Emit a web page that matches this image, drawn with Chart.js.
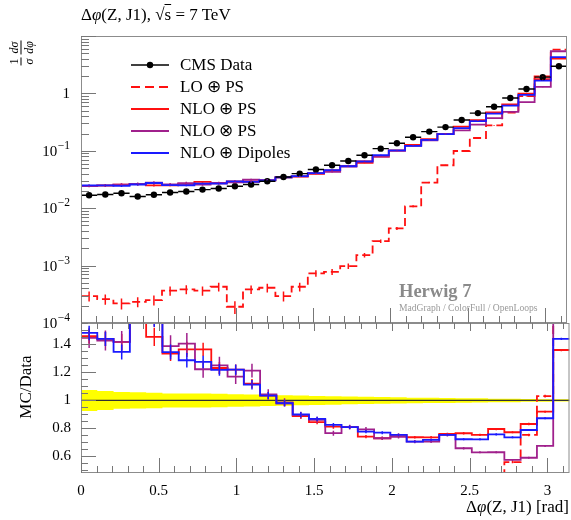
<!DOCTYPE html>
<html><head><meta charset="utf-8">
<script src="https://cdn.jsdelivr.net/npm/chart.js@4.4.0/dist/chart.umd.min.js"></script>
<style>
html,body{margin:0;padding:0;background:#fff;}
#wrap{position:relative;width:571px;height:520px;overflow:hidden;font-family:"Liberation Serif",serif;color:#000;}
canvas{position:absolute;left:0;top:0;}
.t{position:absolute;white-space:nowrap;}
.frac{display:inline-flex;flex-direction:column;align-items:center;vertical-align:middle;line-height:1;}
.frac span:first-child{border-bottom:0.8px solid #000;padding:0 1px 1px 1px;}
.frac span:last-child{padding-top:1px;}
</style></head><body>
<div id="wrap">
<canvas id="topc" width="571" height="520"></canvas>
<canvas id="ratc" width="571" height="520"></canvas>
<div class="t" style="left:81px;top:5px;font-size:17px;line-height:20px;">Δ<i>φ</i>(Z, J1), √<span style="text-decoration:overline">s</span> = 7 TeV</div>
<div class="t" style="left:21px;top:53px;transform:translate(-50%,-50%) rotate(-90deg);font-size:12px;"><span class="frac"><span>1</span><span><i>σ</i></span></span> <span class="frac"><span><i>dσ</i></span><span><i>dφ</i></span></span></div>
<div class="t" style="left:26px;top:387px;transform:translate(-50%,-50%) rotate(-90deg);font-size:17px;">MC/Data</div>
<div class="t" style="right:2px;top:497px;font-size:17px;line-height:20px;">Δ<i>φ</i>(Z, J1) [rad]</div>
<div class="t" style="left:399px;top:281px;font-size:18.5px;font-weight:bold;color:#8a8a8a;line-height:20px;">Herwig 7</div>
<div class="t" style="left:399px;top:302px;font-size:9.6px;color:#9a9a9a;line-height:11px;">MadGraph / ColorFull / OpenLoops</div>
</div>
<script>
// ---- data ----
const binEdges = [0,0.1047,0.2094,0.3142,0.4189,0.5236,0.6283,0.7330,0.8378,0.9425,1.0472,1.1519,1.2566,1.3614,1.4661,1.5708,1.6755,1.7802,1.8850,1.9897,2.0944,2.1991,2.3038,2.4086,2.5133,2.6180,2.7227,2.8274,2.9322,3.0369,3.1416];
const cmsData = [0.0168,0.0173,0.0182,0.0160,0.0172,0.0188,0.0195,0.0211,0.0220,0.0241,0.0258,0.0295,0.0350,0.0401,0.0471,0.0560,0.0665,0.0835,0.109,0.135,0.172,0.216,0.259,0.343,0.454,0.587,0.829,1.19,1.92,2.98];
const cmsRelErr = [0.075,0.068,0.06,0.058,0.055,0.05,0.05,0.05,0.048,0.045,0.043,0.04,0.037,0.035,0.032,0.03,0.028,0.026,0.024,0.022,0.02,0.019,0.018,0.016,0.015,0.013,0.012,0.01,0.009,0.008];
const loPS = [2.95e-4,2.61e-4,2.20e-4,2.34e-4,2.51e-4,3.65e-4,3.86e-4,3.65e-4,4.28e-4,1.92e-4,3.86e-4,4.11e-4,2.95e-4,4.28e-4,7.32e-4,7.80e-4,9.80e-4,1.52e-3,2.67e-3,4.44e-3,0.0108,0.0280,0.0560,0.0993,0.167,0.278,0.464,0.897,1.98,5.81];
const nloPS = [0.0245,0.0249,0.0258,0.0264,0.0250,0.0251,0.0266,0.0288,0.0271,0.0294,0.0289,0.0305,0.0343,0.0356,0.0398,0.0455,0.0538,0.0619,0.0796,0.1018,0.1268,0.1592,0.1971,0.2627,0.3423,0.4673,0.6408,0.990,1.766,4.053];
const nloXPS = [0.0243,0.0247,0.0258,0.0264,0.0279,0.0261,0.0274,0.0258,0.0275,0.0282,0.0313,0.0308,0.0345,0.0359,0.0406,0.0429,0.0538,0.0663,0.0796,0.1000,0.1214,0.1525,0.1953,0.2260,0.2860,0.3698,0.4767,0.7033,1.296,5.42];
const nloDipoles = [0.0249,0.0249,0.0245,0.0259,0.0275,0.0253,0.0251,0.0269,0.0268,0.0294,0.0287,0.0305,0.0343,0.0361,0.0409,0.0462,0.0538,0.0649,0.0839,0.1018,0.1214,0.1551,0.1953,0.248,0.328,0.445,0.611,0.939,1.676,4.29];
const errLO = [0.2,0.2,0.22,0.2,0.2,0.18,0.18,0.18,0.17,0.25,0.17,0.17,0.2,0.17,0.13,0.12,0.11,0.09,0.07,0.06,0.04,0.03,0.025,0.02,0.017,0.015,0.013,0.012,0.01,0.008];
const errNLO = [0.035,0.035,0.04,0.045,0.045,0.04,0.04,0.035,0.035,0.03,0.03,0.025,0.022,0.02,0.018,0.017,0.016,0.015,0.014,0.013,0.012,0.012,0.011,0.011,0.01,0.01,0.01,0.01,0.008,0.006];
const errNLOX = [0.05,0.05,0.055,0.06,0.06,0.055,0.055,0.05,0.05,0.045,0.04,0.035,0.03,0.027,0.025,0.023,0.021,0.02,0.018,0.017,0.016,0.015,0.014,0.013,0.012,0.012,0.012,0.012,0.01,0.008];
const seriesNames = ['CMS Data','LO ⊕ PS','NLO ⊕ PS','NLO ⊗ PS','NLO ⊕ Dipoles'];
const xTickValues = [0,0.5,1,1.5,2,2.5,3];
const xTickLabels = ['0','0.5','1','1.5','2','2.5','3'];
const logTickValues = [1e-4,1e-3,1e-2,1e-1,1];
const logTickBases = ['10','10','10','10','1'];
const logTickExps = ['−4','−3','−2','−1',''];
const ratioTickValues = [0.6,0.8,1,1.2,1.4];
const ratioTickLabels = ['0.6','0.8','1','1.2','1.4'];

// ---- styles ----
const FONT = '"Liberation Serif", serif';
const RED = '#ff1010', PURPLE = '#a0208c', BLUE = '#1a1aff';
const mcSeries = [
  {name:seriesNames[1], vals:loPS, err:errLO, color:RED, dash:[8,4], order:4},
  {name:seriesNames[2], vals:nloPS, err:errNLO, color:RED, dash:[], order:3},
  {name:seriesNames[3], vals:nloXPS, err:errNLOX, color:PURPLE, dash:[], order:2},
  {name:seriesNames[4], vals:nloDipoles, err:errNLO, color:BLUE, dash:[], order:1}
];
const nB = cmsData.length;
const centers = cmsData.map((_,i)=>(binEdges[i]+binEdges[i+1])/2);
function stepPts(vals){ const p = vals.map((v,i)=>({x:binEdges[i], y:v})); p.push({x:binEdges[vals.length], y:vals[vals.length-1]}); return p; }
const ratioOf = arr => arr.map((v,i)=>v/cmsData[i]);

function clipArea(ctx,a){ ctx.beginPath(); ctx.rect(a.left,a.top,a.right-a.left,a.bottom-a.top); ctx.clip(); }

function frameTicks(chart, spec){
  const {ctx, chartArea:a} = chart; const x = chart.scales.x, y = chart.scales.y;
  ctx.save();
  ctx.strokeStyle = '#8c8c8c'; ctx.lineWidth = 1;
  ctx.strokeRect(a.left+0.5, a.top+0.5, a.right-a.left-1, a.bottom-a.top-1);
  ctx.strokeStyle = '#777'; ctx.beginPath();
  spec.yTicks.forEach(([v,len])=>{ const py = Math.round(y.getPixelForValue(v))+0.5; if(py<a.top||py>a.bottom) return; ctx.moveTo(a.left,py); ctx.lineTo(a.left+len,py); });
  spec.xTicks.forEach(([v,len])=>{ const px = Math.round(x.getPixelForValue(v))+0.5;
    if(spec.bottomUp){ ctx.moveTo(px,a.bottom); ctx.lineTo(px,a.bottom-len); }
    if(spec.topDown){ ctx.moveTo(px,a.top); ctx.lineTo(px,a.top+(len>10?8:6)); } });
  ctx.stroke(); ctx.restore();
}
const xTickSpec = [];
for(let k=0;k<=31;k++){ const v=k/10; const major = Math.abs(v*2-Math.round(v*2))<1e-6; xTickSpec.push([v, major?15:7]); }
const logTickSpec = [];
for(let e=-4;e<=0;e++){ for(let m=1;m<=9;m++){ logTickSpec.push([m*Math.pow(10,e), m===1?15:8]); } }
logTickSpec.push([10,15]);
const ratioTickSpec = [];
for(let k=10;k<=31;k++){ const v=k*0.05; const major = (k%4===0); ratioTickSpec.push([v, major?15:7]); }

// ---- top chart ----
const topDatasets = [
  {label:seriesNames[0], data:centers.map((c,i)=>({x:c,y:cmsData[i]})), showLine:false, pointRadius:3.2, pointBackgroundColor:'#000', pointBorderColor:'#000', pointBorderWidth:0, order:0}
].concat(mcSeries.map(s=>({label:s.name, data:stepPts(s.vals), stepped:'before', borderColor:s.color, borderDash:s.dash, borderWidth:1.8, pointRadius:0, fill:false, order:s.order})));

const topPlugin = {id:'topExtras',
  afterDatasetsDraw(chart){
    const {ctx, chartArea:a} = chart; const x=chart.scales.x, y=chart.scales.y;
    ctx.save(); clipArea(ctx,a);
    [...mcSeries].sort((p,q)=>q.order-p.order).forEach(s=>{
      ctx.strokeStyle = s.color; ctx.lineWidth = 1.5; ctx.beginPath();
      s.vals.forEach((v,i)=>{ const px=x.getPixelForValue(centers[i]); ctx.moveTo(px,y.getPixelForValue(v*(1-s.err[i]))); ctx.lineTo(px,y.getPixelForValue(v*(1+s.err[i]))); });
      ctx.stroke(); });
    ctx.strokeStyle='#000'; ctx.lineWidth=1.4; ctx.beginPath();
    cmsData.forEach((v,i)=>{ const py=y.getPixelForValue(v); ctx.moveTo(x.getPixelForValue(binEdges[i]),py); ctx.lineTo(x.getPixelForValue(binEdges[i+1]),py);
      const px=x.getPixelForValue(centers[i]); ctx.moveTo(px,y.getPixelForValue(v*(1-cmsRelErr[i]))); ctx.lineTo(px,y.getPixelForValue(v*(1+cmsRelErr[i]))); });
    ctx.stroke(); ctx.restore();
  },
  afterDraw(chart){
    frameTicks(chart,{yTicks:logTickSpec, xTicks:xTickSpec, bottomUp:true});
    const ctx = chart.ctx; const y = chart.scales.y; ctx.save();
    // log tick labels: base with raised exponent
    ctx.fillStyle='#000'; ctx.textBaseline='middle'; ctx.textAlign='right';
    logTickValues.forEach((v,i)=>{
      const py = y.getPixelForValue(v); const rx = chart.chartArea.left - 11;
      if(logTickExps[i]){
        ctx.font = '11.5px '+FONT; const ew = ctx.measureText(logTickExps[i]).width;
        ctx.fillText(logTickExps[i], rx, py-5);
        ctx.font = '15px '+FONT; ctx.fillText(logTickBases[i], rx-ew-0.5, py+1);
      } else { ctx.font = '15px '+FONT; ctx.fillText(logTickBases[i], rx, py+1); }
    });
    ctx.textAlign='left';
    ctx.font = '17px '+FONT; ctx.textBaseline='middle'; ctx.fillStyle='#000';
    chart.data.datasets.forEach((ds,i)=>{
      const yy = 65 + 22*i;
      ctx.beginPath();
      if(ds.showLine===false){ ctx.strokeStyle='#000'; ctx.lineWidth=1.4; ctx.setLineDash([]); ctx.moveTo(131,yy); ctx.lineTo(169,yy); ctx.stroke(); ctx.beginPath(); ctx.arc(150,yy,3.2,0,Math.PI*2); ctx.fill(); }
      else { ctx.strokeStyle=ds.borderColor; ctx.lineWidth=1.8; ctx.setLineDash(ds.borderDash.length?[9,5]:[]); ctx.moveTo(131,yy); ctx.lineTo(169,yy); ctx.stroke(); }
      ctx.setLineDash([]);
      ctx.fillStyle='#000'; ctx.fillText(ds.label, 180, yy+1);
    });
    ctx.restore();
  }
};

new Chart(document.getElementById('topc'), {
  type:'line',
  data:{datasets:topDatasets},
  options:{
    responsive:false, animation:false, devicePixelRatio:1,
    layout:{padding:{top:36,bottom:197,left:0,right:1.5}},
    plugins:{legend:{display:false}, tooltip:{enabled:false}},
    scales:{
      x:{type:'linear', min:binEdges[0], max:binEdges[nB], display:false},
      y:{type:'logarithmic', min:1e-4, max:10,
         afterFit(s){ s.width = 81; },
         afterBuildTicks(s){ s.ticks = logTickValues.map(v=>({value:v})); },
         grid:{display:false, drawTicks:false}, border:{display:false},
         ticks:{padding:10, color:'#000', font:{family:FONT,size:15}, callback:()=>''}}
    }
  },
  plugins:[topPlugin]
});

// ---- ratio chart ----
const bandLo = cmsRelErr.map(e=>1-e), bandHi = cmsRelErr.map(e=>1+e);
const ratDatasets = [
  {label:'band-lo', data:stepPts(bandLo), stepped:'before', borderWidth:0, pointRadius:0, fill:false, order:20},
  {label:'band-hi', data:stepPts(bandHi), stepped:'before', borderWidth:0, pointRadius:0, fill:'-1', backgroundColor:'#ffff00', order:19},
  {label:'one', data:[{x:binEdges[0],y:1},{x:binEdges[nB],y:1}], borderColor:'#333', borderWidth:1.2, pointRadius:0, fill:false, order:10}
].concat(mcSeries.map(s=>({label:s.name, data:stepPts(ratioOf(s.vals)), stepped:'before', borderColor:s.color, borderDash:s.dash, borderWidth:1.8, pointRadius:0, fill:false, order:s.order})));

const ratPlugin = {id:'ratExtras',
  afterDatasetsDraw(chart){
    const {ctx, chartArea:a} = chart; const x=chart.scales.x, y=chart.scales.y;
    ctx.save(); clipArea(ctx,a);
    [...mcSeries].sort((p,q)=>q.order-p.order).forEach(s=>{
      const r = ratioOf(s.vals);
      ctx.strokeStyle = s.color; ctx.lineWidth = 1.5; ctx.beginPath();
      r.forEach((v,i)=>{ const px=x.getPixelForValue(centers[i]); ctx.moveTo(px,y.getPixelForValue(v*(1-s.err[i]))); ctx.lineTo(px,y.getPixelForValue(v*(1+s.err[i]))); });
      ctx.stroke(); });
    ctx.restore();
  },
  afterDraw(chart){ frameTicks(chart,{yTicks:ratioTickSpec, xTicks:xTickSpec, bottomUp:true, topDown:true}); }
};

new Chart(document.getElementById('ratc'), {
  type:'line',
  data:{datasets:ratDatasets},
  options:{
    responsive:false, animation:false, devicePixelRatio:1,
    layout:{padding:{top:323,bottom:0,left:0,right:1.5}},
    plugins:{legend:{display:false}, tooltip:{enabled:false}},
    scales:{
      x:{type:'linear', min:binEdges[0], max:binEdges[nB],
         afterFit(s){ s.height = 47; },
         afterBuildTicks(s){ s.ticks = xTickValues.map(v=>({value:v})); },
         grid:{display:false, drawTicks:false}, border:{display:false},
         ticks:{padding:9, maxRotation:0, color:'#000', font:{family:FONT,size:15}, callback:(v,i)=>xTickLabels[i]}},
      y:{type:'linear', min:0.482, max:1.553,
         afterFit(s){ s.width = 81; },
         afterBuildTicks(s){ s.ticks = ratioTickValues.map(v=>({value:v})); },
         grid:{display:false, drawTicks:false}, border:{display:false},
         ticks:{padding:10, color:'#000', font:{family:FONT,size:15}, callback:(v,i)=>ratioTickLabels[i]}}
    }
  },
  plugins:[ratPlugin]
});
</script>
</body></html>
